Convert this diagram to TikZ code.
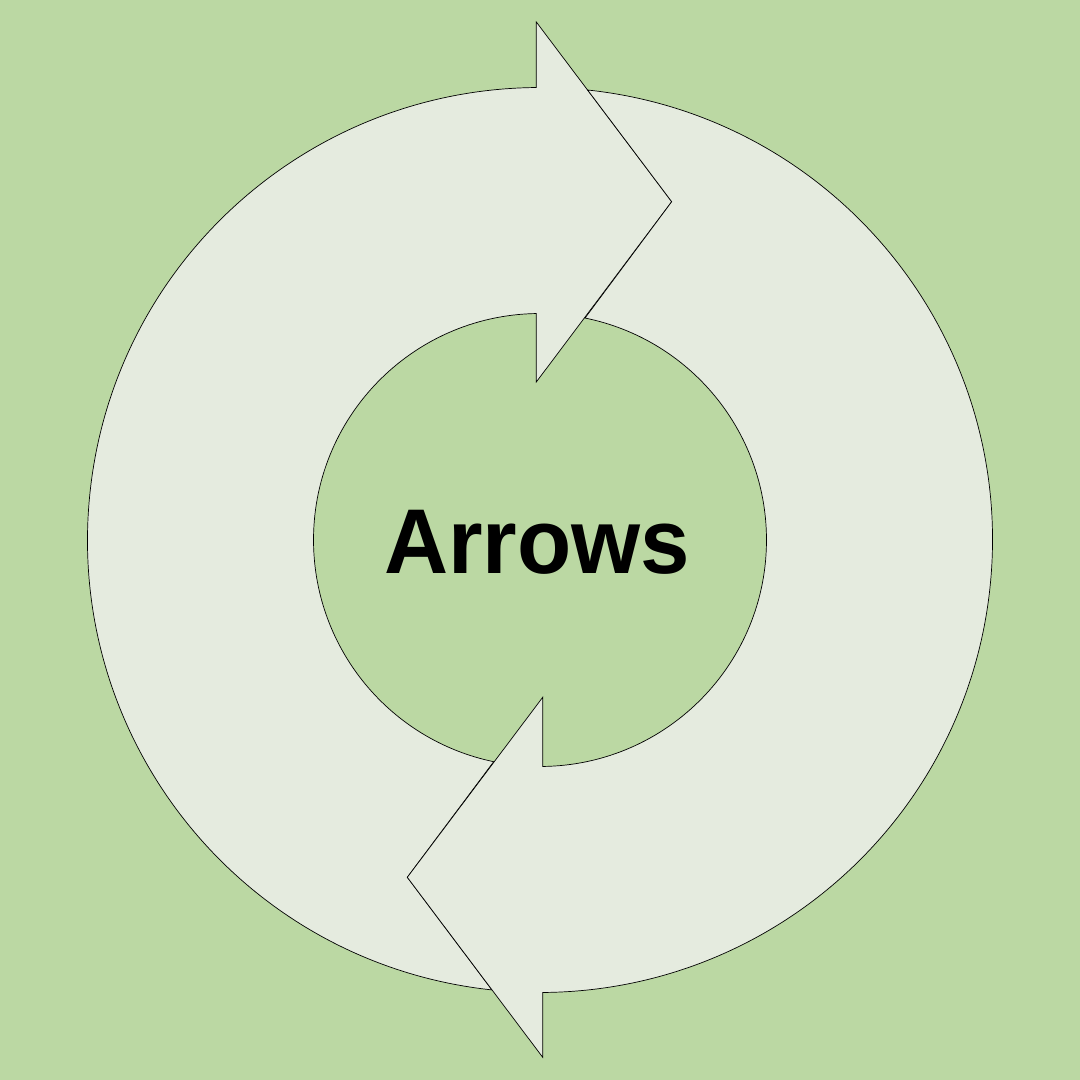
\documentclass[tikz,border=0pt]{standalone}
\usepackage{fontspec}
\newfontfamily\labfont{Liberation Sans}
\definecolor{bggreen}{RGB}{187,216,163}
\definecolor{ringfill}{RGB}{229,235,223}
\begin{document}
\begin{tikzpicture}[x=1pt,y=1pt,
  arrowshape/.style={fill=ringfill,draw=black,line width=0.7pt,line join=miter},
  centerlabel/.style={font=\labfont\bfseries\fontsize{92}{110}\selectfont,inner sep=0pt,xscale=0.965}]
\fill[bggreen] (0,0) rectangle (1080,1080);
\useasboundingbox (0,0) rectangle (1080,1080);
\begin{scope}[shift={(540,540)}]
  % top arrow head points
  \coordinate (ahtop) at (-3.7,518);
  \coordinate (atip) at (131.7,338.3);
  \coordinate (ahbot) at (-3.7,158);
  % bottom arrow head points
  \coordinate (bhbot) at (2.7,-517.3);
  \coordinate (btip) at (-132.7,-337.3);
  \coordinate (bhtop) at (2.7,-157.3);
  % left arrow (bottom -> top, clockwise)
  \draw[arrowshape] (263.9:452.5) arc[start angle=263.9,end angle=90.47,radius=452.5]
     -- (ahtop) -- (atip) -- (ahbot) -- (90.93:226.5)
     arc[start angle=90.93,end angle=258.2,radius=226.5] -- (btip) -- cycle;
  % right arrow (top -> bottom, clockwise)
  \draw[arrowshape] (83.96:452.5) arc[start angle=83.96,end angle=-89.66,radius=452.5]
     -- (bhbot) -- (btip) -- (bhtop) -- (-89.31:226.5)
     arc[start angle=-89.31,end angle=78.53,radius=226.5] -- (atip) -- cycle;
  \node[centerlabel,anchor=base] (label) at (-3,-33.3) {Arrows};
\end{scope}
\end{tikzpicture}
\end{document}
